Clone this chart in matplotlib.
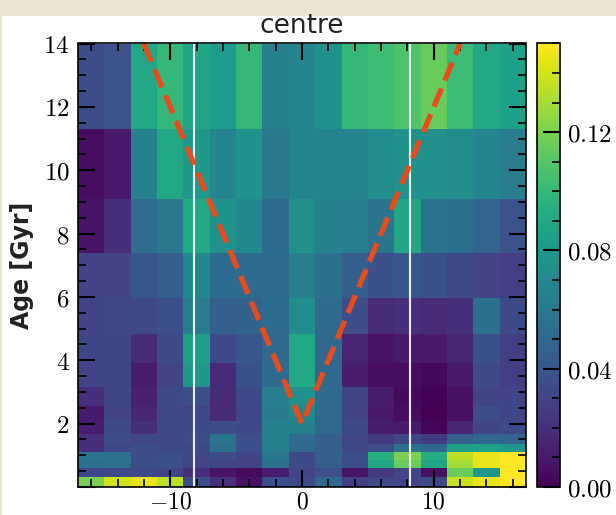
import numpy as np
import matplotlib
matplotlib.use("Agg")
import matplotlib.pyplot as plt
from matplotlib.patches import Rectangle
from matplotlib.ticker import MultipleLocator, FuncFormatter

plt.rcParams["mathtext.fontset"] = "cm"

# bin edges: galactocentric X [kpc] and stellar age [Gyr]
x_edges = [-17, -15, -13, -11, -9, -7, -5, -3, -1, 1, 3, 5, 7, 9, 11, 13, 15, 17]
age_edges = [0, 0.3, 0.6, 0.85, 1.1, 1.35, 1.67, 2.07, 2.56, 3.16, 3.91,
             4.83, 5.97, 7.39, 9.08, 11.29, 14]

# normalised density per cell, one row per age bin (youngest first)
density = [
    [0.120, 0.140, 0.145, 0.135, 0.035, 0.020, 0.006, 0.036, 0.033, 0.050, 0.028, 0.032, 0.030, 0.033, 0.138, 0.145, 0.150],
    [0.032, 0.033, 0.033, 0.030, 0.020, 0.008, 0.004, 0.012, 0.030, 0.036, 0.008, 0.025, 0.030, 0.006, 0.115, 0.080, 0.150],
    [0.055, 0.055, 0.035, 0.036, 0.030, 0.030, 0.030, 0.055, 0.033, 0.045, 0.035, 0.090, 0.115, 0.088, 0.130, 0.145, 0.150],
    [0.058, 0.056, 0.035, 0.036, 0.032, 0.035, 0.030, 0.060, 0.033, 0.045, 0.036, 0.095, 0.120, 0.093, 0.135, 0.145, 0.150],
    [0.020, 0.033, 0.035, 0.033, 0.033, 0.055, 0.036, 0.065, 0.050, 0.045, 0.032, 0.035, 0.055, 0.050, 0.085, 0.085, 0.080],
    [0.020, 0.034, 0.032, 0.032, 0.034, 0.058, 0.036, 0.065, 0.052, 0.045, 0.030, 0.025, 0.030, 0.025, 0.045, 0.050, 0.048],
    [0.012, 0.033, 0.020, 0.033, 0.033, 0.035, 0.033, 0.065, 0.065, 0.050, 0.033, 0.012, 0.010, 0.002, 0.015, 0.030, 0.033],
    [0.010, 0.030, 0.016, 0.032, 0.032, 0.018, 0.032, 0.062, 0.070, 0.050, 0.030, 0.010, 0.005, 0.000, 0.006, 0.034, 0.031],
    [0.020, 0.031, 0.014, 0.033, 0.036, 0.018, 0.033, 0.063, 0.075, 0.052, 0.031, 0.012, 0.004, 0.001, 0.007, 0.030, 0.030],
    [0.030, 0.031, 0.012, 0.030, 0.080, 0.018, 0.037, 0.052, 0.090, 0.050, 0.012, 0.005, 0.005, 0.003, 0.010, 0.033, 0.028],
    [0.031, 0.031, 0.018, 0.033, 0.085, 0.033, 0.040, 0.050, 0.090, 0.050, 0.015, 0.008, 0.010, 0.010, 0.016, 0.037, 0.028],
    [0.030, 0.032, 0.033, 0.036, 0.063, 0.045, 0.047, 0.052, 0.073, 0.052, 0.035, 0.018, 0.020, 0.018, 0.020, 0.055, 0.033],
    [0.030, 0.030, 0.040, 0.045, 0.070, 0.052, 0.052, 0.052, 0.064, 0.055, 0.045, 0.037, 0.040, 0.037, 0.033, 0.030, 0.028],
    [0.008, 0.020, 0.053, 0.060, 0.090, 0.075, 0.070, 0.052, 0.075, 0.065, 0.063, 0.058, 0.088, 0.058, 0.055, 0.048, 0.038],
    [0.005, 0.010, 0.065, 0.090, 0.080, 0.068, 0.075, 0.060, 0.068, 0.068, 0.067, 0.073, 0.075, 0.075, 0.073, 0.068, 0.063],
    [0.035, 0.038, 0.090, 0.100, 0.088, 0.082, 0.100, 0.065, 0.068, 0.075, 0.100, 0.103, 0.108, 0.115, 0.102, 0.090, 0.085],
]

# solar radius and the age-radius envelope
r_sun = 8.2
v_x = [-12, 0, 12]
v_age = [14, 2, 14]

fig = plt.figure(figsize=(6.16, 5.15), dpi=100)
fig.patch.set_facecolor("#ede3d2")
fig.add_artist(Rectangle((2 / 616, 0), 1, 499 / 515, transform=fig.transFigure,
                         facecolor="white", edgecolor="none", zorder=0))

ax = fig.add_axes([78 / 616, 28 / 515, 448 / 616, 443.5 / 515])
cax = fig.add_axes([537 / 616, 28 / 515, 23 / 616, 443.5 / 515])

mesh = ax.pcolormesh(x_edges, age_edges, np.array(density), cmap="viridis",
                     vmin=0, vmax=0.15, shading="flat")

for xv in (-r_sun, r_sun):
    ax.axvline(xv, color="white", lw=1.5, alpha=0.9)
ax.plot(v_x, v_age, ls="--", color="#e94b1b", lw=3.8)

ax.set_xlim(-17, 17)
ax.set_ylim(0, 14)
ax.xaxis.set_major_locator(MultipleLocator(10))
ax.xaxis.set_minor_locator(MultipleLocator(2))
ax.yaxis.set_major_locator(MultipleLocator(2))
ax.yaxis.set_minor_locator(MultipleLocator(0.5))
ax.xaxis.set_major_formatter(FuncFormatter(lambda v, p: f"${v:g}$"))
ax.yaxis.set_major_formatter(FuncFormatter(lambda v, p: "" if v == 0 else f"${v:g}$"))
ax.tick_params(which="both", direction="in", top=True, right=True, colors="black")
ax.tick_params(which="major", length=12, width=1.5, labelsize=18, pad=6)
ax.tick_params(which="minor", length=6, width=1.2)
ax.tick_params(axis="x", which="major", labelsize=17, pad=2)
for sp in ax.spines.values():
    sp.set_linewidth(1.2)

cb = fig.colorbar(mesh, cax=cax)
cb.set_ticks([0, 0.04, 0.08, 0.12])
cb.ax.yaxis.set_minor_locator(MultipleLocator(0.01))
cb.ax.yaxis.set_major_formatter(FuncFormatter(lambda v, p: f"${v:.2f}$"))
cb.ax.tick_params(which="both", direction="in", colors="black")
cb.ax.tick_params(which="major", length=12, width=1.5, labelsize=18, pad=5)
cb.ax.tick_params(which="minor", length=6, width=1.2)
cb.outline.set_linewidth(1.2)

fig.text(302 / 616, 1 - 33 / 515, "centre", ha="center", va="baseline",
         fontsize=19, family="DejaVu Sans", color="#222222")
fig.text(22 / 616, 250 / 515, "Age [Gyr]", rotation=90, ha="center", va="center",
         fontsize=17, fontweight="bold", family="DejaVu Sans", color="#222222")

fig.savefig("out.png", dpi=100, facecolor=fig.get_facecolor())
